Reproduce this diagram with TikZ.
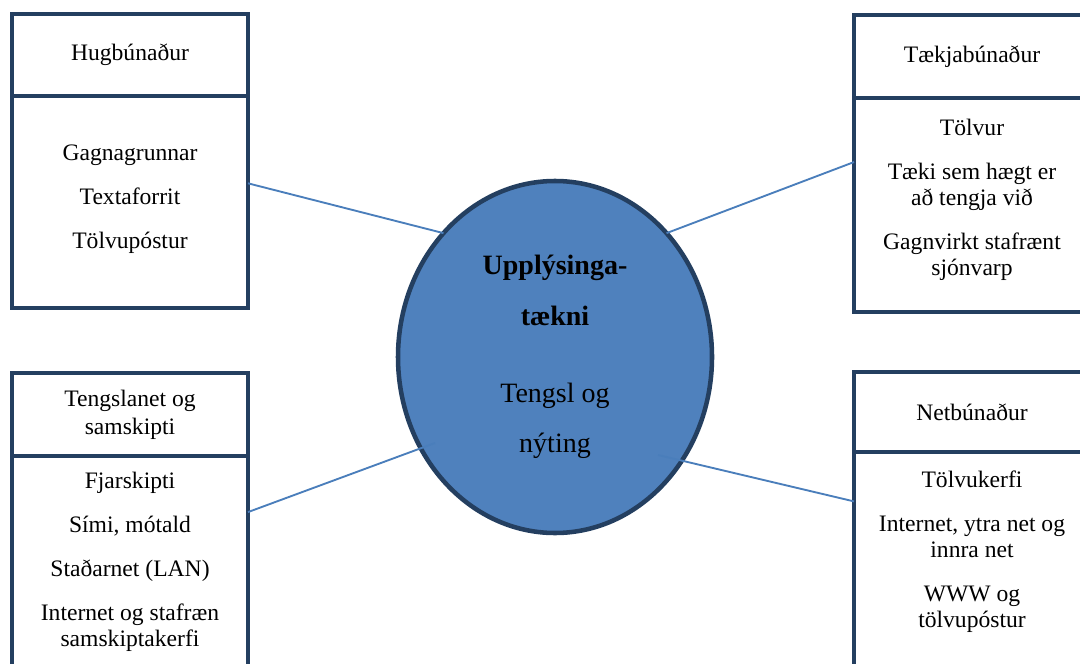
\documentclass[tikz,border=0pt]{standalone}
\usepackage{fontspec}
\setmainfont{Liberation Serif}
\usetikzlibrary{positioning,shapes.geometric}
\definecolor{boxblue}{RGB}{36,63,96}
\definecolor{ellfill}{RGB}{79,129,189}
\definecolor{linkblue}{RGB}{74,126,187}

\begin{document}
\begin{tikzpicture}[x=0.75pt, y=-0.75pt]
% Define block styles
\tikzstyle{headbox} = [rectangle, draw=boxblue, line width=3.4pt, outer sep=0pt,
    minimum width=177pt, align=center, font=\fontsize{17.7pt}{21pt}\selectfont]
\tikzstyle{bodybox} = [rectangle, draw=boxblue, line width=3.4pt, outer sep=0pt,
    minimum width=177pt]
\tikzstyle{items} = [align=center, inner sep=0pt, anchor=north,
    font=\fontsize{17.7pt}{19.5pt}\selectfont]
\tikzstyle{centre} = [ellipse, draw=boxblue, fill=ellfill, line width=3.4pt,
    outer sep=0pt, inner sep=0pt, minimum width=235.5pt, minimum height=264pt,
    align=center, font=\fontsize{21pt}{38pt}\selectfont]
\tikzstyle{conn} = [draw=linkblue, line width=1.4pt]

    \useasboundingbox (0,0) rectangle (1080,663);
    \clip (0,0) rectangle (1080,663);

    % Place nodes
    \node [headbox, minimum height=61.5pt] (hughead) at (130,55) {Hugbúnaður};
    \node [bodybox, minimum height=159pt, below=0pt of hughead] (hugbody) {};
    \node [items, below=33pt of hugbody.north] (hugitems)
        {\rule{0pt}{15pt}Gagnagrunnar\\[13.5pt]Textaforrit\\[13.5pt]Tölvupóstur};

    \node [headbox, minimum height=62.25pt] (tekhead) at (972,56.5) {Tækjabúnaður};
    \node [bodybox, minimum height=160.5pt, below=0pt of tekhead] (tekbody) {};
    \node [items, below=12.75pt of tekbody.north] (tekitems)
        {\rule{0pt}{15pt}Tölvur\\[13.5pt]Tæki sem hægt er\\að tengja við\\[13.5pt]Gagnvirkt stafrænt\\sjónvarp};

    \node [headbox, minimum height=62.25pt] (tenghead) at (130,414.5) {Tengslanet og\\samskipti};
    \node [bodybox, minimum height=190.5pt, below=0pt of tenghead] (tengbody) {};
    \node [items, below=9pt of tengbody.north] (tengitems)
        {\rule{0pt}{15pt}Fjarskipti\\[13.5pt]Sími, mótald\\[13.5pt]Staðarnet (LAN)\\[13.5pt]Internet og stafræn\\samskiptakerfi};

    \node [headbox, minimum height=60pt] (nethead) at (972,412) {Netbúnaður};
    \node [bodybox, minimum height=193.5pt, below=0pt of nethead] (netbody) {};
    \node [items, below=11.25pt of netbody.north] (netitems)
        {\rule{0pt}{15pt}Tölvukerfi\\[13.5pt]Internet, ytra net og\\innra net\\[13.5pt]WWW og\\tölvupóstur};

    \node [centre] (ut) at (555,357)
        {\textbf{Upplýsinga-}\\\textbf{tækni}\\[19.5pt]Tengsl og\\nýting};
    \coordinate (tengin) at (435,443);
    \coordinate (netin) at (658,455);

    % Draw edges
    \path [conn] (hugbody.9) -- (ut.132);
    \path [conn] (tekbody.160) -- (ut.48);
    \path [conn] (tengbody.31) -- (tengin);
    \path [conn] (netbody.146) -- (netin);
\end{tikzpicture}
\end{document}
